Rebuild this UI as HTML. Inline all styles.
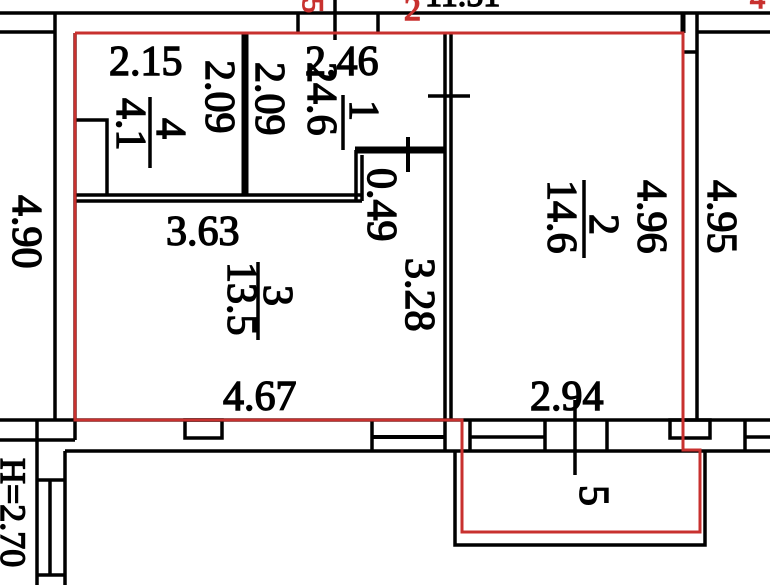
<!DOCTYPE html>
<html><head><meta charset="utf-8"><style>
html,body{margin:0;padding:0;background:#fff;width:770px;height:585px;overflow:hidden}
svg{display:block}
text{font-family:"Liberation Serif",serif;font-size:42px;fill:#000;stroke:#000;stroke-width:1.4}
</style></head><body>
<svg width="770" height="585" viewBox="0 0 770 585" xmlns="http://www.w3.org/2000/svg">
<g stroke="#000" stroke-width="3.5" fill="none">
<line x1="0" y1="13" x2="770" y2="13"/>
<line x1="0" y1="32" x2="55" y2="32"/>
<line x1="697" y1="32" x2="770" y2="32"/>
<line x1="298" y1="13" x2="298" y2="32"/>
<line x1="335" y1="0" x2="335" y2="40"/>
<line x1="378" y1="13" x2="378" y2="32"/>
<line x1="683" y1="13" x2="683" y2="33" stroke-width="5"/>
<line x1="55" y1="13" x2="55" y2="420"/>
<line x1="75" y1="33" x2="75" y2="420"/>
<line x1="697" y1="13" x2="697" y2="420"/>
<line x1="683" y1="52" x2="697" y2="52"/>
<line x1="0" y1="420" x2="770" y2="420"/>
<line x1="0" y1="440" x2="75" y2="440"/>
<line x1="75" y1="420" x2="75" y2="440"/>
<line x1="65" y1="451" x2="770" y2="451"/>
<line x1="37" y1="420" x2="37" y2="585"/>
<line x1="65" y1="451" x2="65" y2="585"/>
<line x1="37" y1="480" x2="65" y2="480"/>
<line x1="50" y1="480" x2="50" y2="575"/>
<line x1="37" y1="575" x2="65" y2="575"/>
<rect x="185" y="420" width="37" height="18"/>
<line x1="372" y1="420" x2="372" y2="451"/>
<line x1="372" y1="437" x2="445" y2="437" stroke-width="4"/>
<line x1="445" y1="420" x2="445" y2="451"/>
<line x1="470" y1="420" x2="470" y2="451"/>
<line x1="470" y1="437" x2="545" y2="437"/>
<line x1="545" y1="420" x2="545" y2="451"/>
<line x1="607" y1="420" x2="607" y2="451"/>
<rect x="670" y="420" width="40" height="18"/>
<line x1="745" y1="420" x2="745" y2="451"/>
<line x1="745" y1="437" x2="770" y2="437"/>
<polyline points="455,451 455,545 705,545 705,451"/>
<line x1="245" y1="33" x2="245" y2="195" stroke-width="7"/>
<line x1="75" y1="195" x2="362" y2="195"/>
<line x1="75" y1="201" x2="362" y2="201"/>
<polyline points="75,120 107,120 107,195"/>
<line x1="355" y1="150" x2="445" y2="150" stroke-width="7"/>
<line x1="356" y1="150" x2="356" y2="201"/>
<line x1="362" y1="155" x2="362" y2="201"/>
<line x1="445" y1="33" x2="445" y2="420"/>
<line x1="451" y1="33" x2="451" y2="420"/>
<line x1="428" y1="96" x2="470" y2="96"/>
<line x1="408" y1="137" x2="408" y2="172" stroke-width="4"/>
<line x1="150" y1="97" x2="150" y2="168"/>
<line x1="343" y1="95" x2="343" y2="150"/>
<line x1="258" y1="262" x2="258" y2="340"/>
<line x1="584" y1="180" x2="584" y2="258"/>
<line x1="575" y1="400" x2="575" y2="475"/>
</g>
<polyline points="75,33 683,33 683,450 700,450 700,532 462,532 462,420 75,420 75,33" fill="none" stroke="#c8312f" stroke-width="3"/>
<text transform="translate(303,-2) rotate(90)" style="fill:#c8312f;stroke:#c8312f;font-size:30px">5</text>
<text x="404" y="20" style="fill:#c8312f;stroke:#c8312f;font-size:34px">2</text>
<text x="750" y="8" style="fill:#c8312f;stroke:#c8312f;font-size:30px">4</text>
<text x="425" y="6" style="font-size:34px">11.51</text>
<text x="109" y="75">2.15</text>
<text x="305" y="75">2.46</text>
<text x="166" y="245">3.63</text>
<text x="223" y="410">4.67</text>
<text x="530" y="410">2.94</text>
<text transform="translate(13,195) rotate(90)">4.90</text>
<text transform="translate(206,60) rotate(90)">2.09</text>
<text transform="translate(256,62) rotate(90)">2.09</text>
<text transform="translate(117,98) rotate(90)">4.1</text>
<text transform="translate(157,118) rotate(90)">4</text>
<text transform="translate(308,62) rotate(90)">24.6</text>
<text transform="translate(350,100) rotate(90)">1</text>
<text transform="translate(368,168) rotate(90)">0.49</text>
<text transform="translate(228,262) rotate(90)">13.5</text>
<text transform="translate(264,285) rotate(90)">3</text>
<text transform="translate(406,258) rotate(90)">3.28</text>
<text transform="translate(548,180) rotate(90)">14.6</text>
<text transform="translate(590,214) rotate(90)">2</text>
<text transform="translate(638,180) rotate(90)">4.96</text>
<text transform="translate(708,180) rotate(90)">4.95</text>
<text transform="translate(580,485) rotate(90)">5</text>
<text transform="translate(1,458) rotate(90)" style="font-size:36px">H=2.70</text>
</svg>
</body></html>
